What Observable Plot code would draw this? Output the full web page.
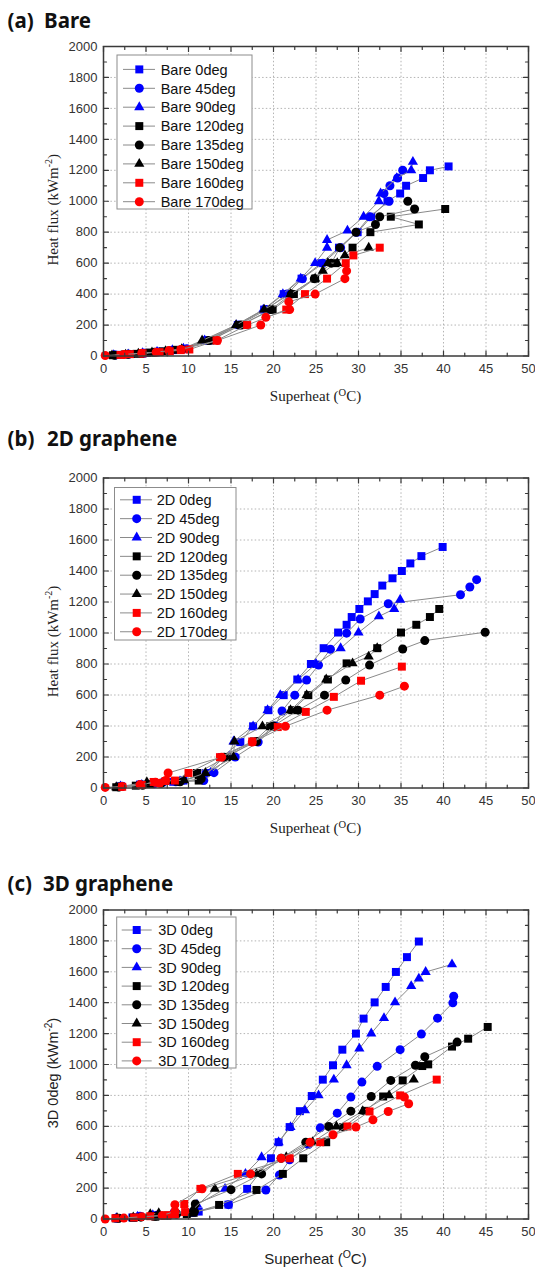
<!DOCTYPE html>
<html><head><meta charset="utf-8">
<script src="https://cdn.jsdelivr.net/npm/d3@7"></script>
<script src="https://cdn.jsdelivr.net/npm/@observablehq/plot@0.6"></script>
<style>
body{margin:0;background:#fff;}
#wrap{width:535px;height:1268px;overflow:hidden;}
#wrap svg{display:block;}
</style></head><body><div id="wrap"></div>
<script>
// ---------- tick labels ----------
const xTicks = [0,5,10,15,20,25,30,35,40,45,50];
const yTicks = [0,200,400,600,800,1000,1200,1400,1600,1800,2000];
const xMinor = [2.5,7.5,12.5,17.5,22.5,27.5,32.5,37.5,42.5,47.5];
const yMinor = [100,300,500,700,900,1100,1300,1500,1700,1900];

// ---------- series names ----------
const angles = ["0deg","45deg","90deg","120deg","135deg","150deg","160deg","170deg"];

// ---------- (a) Bare : [superheat, heat flux] ----------
const bare0 = [[1.6,7],[3.2,13],[5.1,20],[6.6,28],[8.2,38],[9.6,45],[12.3,100],[15.8,200],[18.9,300],[21.2,400],[23.3,500],[25.6,600],[27.7,700],[29.9,800],[31.5,900],[33.4,1000],[34.9,1050],[35.6,1100],[37.6,1150],[38.4,1200],[40.6,1225]];
const bare45 = [[1.4,6],[3,12],[4.8,18],[6.4,26],[8,36],[9.8,47],[12,100],[15.9,200],[19.2,300],[21.6,400],[23.4,500],[25.8,600],[27.9,700],[29.8,800],[31.3,900],[33.6,1000],[33,1050],[33.7,1100],[34.6,1150],[35.2,1200]];
const bare90 = [[1.2,5],[2.9,11],[4.6,19],[6.3,27],[8.1,37],[9.4,48],[11.9,100],[15.6,200],[18.8,300],[21.1,400],[23.2,500],[24.9,600],[26.3,700],[26.3,750],[28.7,810],[30.6,900],[32.4,1000],[32.6,1050],[34.5,1150],[36.2,1200],[36.4,1255]];
const bare120 = [[1.1,5],[2.5,10],[3.9,14],[5.4,22],[7,30],[8.6,40],[12.6,100],[16.1,200],[19.9,300],[22.4,400],[24.9,500],[27.3,600],[29.3,700],[31.4,800],[37.1,850],[33.8,900],[40.2,950]];
const bare135 = [[1.3,5],[2.9,11],[4.5,16],[6,24],[7.6,33],[9.2,42],[12.4,100],[16.2,200],[19.7,300],[22.1,400],[24.8,500],[26.8,600],[27.8,700],[29.7,800],[32,850],[32.5,900],[36.6,950],[35.8,1000]];
const bare150 = [[1,4],[2.6,9],[4.1,15],[5.7,23],[7.3,32],[9.2,45],[11.6,100],[15.6,200],[18.9,300],[22,400],[24.9,500],[25.8,550],[26.4,600],[27.5,600],[28.4,650],[31.2,700]];
const bare160 = [[2,7],[3.1,12],[4.6,17],[6.6,25],[7.8,30],[9.1,38],[10.1,42],[13.3,100],[16.9,200],[21.5,300],[23.7,400],[26.3,500],[28.5,600],[29.4,650],[32.5,700]];
const bare170 = [[0.2,3],[2.4,10],[4.5,18],[6.2,25],[7.7,35],[9.1,42],[13.4,100],[18.5,200],[19.1,250],[21.9,300],[21.8,350],[24.9,400],[28.4,500],[28.6,550]];

// ---------- (b) 2D graphene ----------
const g2d0 = [[2,11],[4.3,22],[6.5,32],[8.2,40],[9.4,48],[12,97],[13.9,199],[16.1,296],[17.6,398],[19.4,502],[21.2,599],[22.8,700],[24.4,800],[25.9,902],[27.6,1003],[28.6,1053],[29.2,1103],[30.1,1155],[31.1,1204],[31.9,1251],[32.8,1306],[34,1353],[35.1,1400],[36.1,1449],[37.4,1496],[39.9,1555]];
const g2d45 = [[2.2,11],[4.3,22],[6,28],[8.5,40],[11.8,48],[13,99],[15.5,200],[18.2,296],[20.2,400],[21,497],[22.5,599],[23.9,696],[25.3,793],[26.7,895],[28.6,999],[30.2,1090],[33.5,1189],[42,1247],[43.1,1297],[43.9,1344]];
const g2d90 = [[2,10],[4.5,20],[6.8,30],[9,42],[12.6,97],[14.8,200],[15.3,300],[17.6,398],[19.3,502],[20.8,599],[22.9,700],[25,800],[27.9,902],[30,1003],[32.4,1107],[34.2,1155],[34.9,1215]];
const g2d120 = [[1.5,5],[3.8,15],[5.5,25],[8.8,41],[11.2,48],[11,97],[14.5,199],[17.7,300],[19.6,398],[22.2,502],[24.1,599],[26.4,700],[28.6,804],[32.2,902],[35,1003],[36.8,1053],[38.4,1103],[39.5,1155]];
const g2d135 = [[1.8,6],[4.6,18],[6.8,30],[9,40],[11.5,60],[14.2,199],[18,300],[20,400],[22.9,502],[26,599],[28.5,696],[31.3,793],[35.2,897],[37.8,951],[44.9,1005]];
const g2d150 = [[1.5,5],[5.1,37],[7.5,45],[9.5,50],[12,97],[15.3,199],[15.4,300],[18.7,398],[22,502],[23.9,599],[26.2,700],[29.3,804],[31.2,848],[32.2,902]];
const g2d160 = [[2.2,8],[4.5,20],[5.9,39],[7.3,45],[8.4,48],[10,97],[13.7,199],[17.5,300],[20.5,393],[23.8,491],[27.1,588],[30.3,692],[35.1,783]];
const g2d170 = [[0.2,4],[2.2,10],[4.3,22],[6.1,37],[6.6,30],[7.3,48],[7.6,97],[13.9,199],[17.5,296],[21.4,398],[26.3,502],[32.5,599],[35.4,657]];

// ---------- (c) 3D graphene ----------
const g3d0 = [[1.6,6],[3.4,10],[4.3,15],[6.2,22],[8.3,30],[10.4,40],[11.2,48],[14.7,93],[16.9,195],[19.7,393],[20.6,497],[21.9,595],[23.1,698],[24.5,796],[25.8,902],[27,995],[28.1,1096],[29.7,1200],[30.6,1297],[31.9,1402],[33.2,1502],[34.4,1599],[35.7,1695],[37.1,1796]];
const g3d45 = [[1.5,5],[4.3,18],[6.3,25],[8.6,35],[10.5,45],[14.7,93],[19.1,188],[20.7,285],[21.9,383],[24.1,482],[25.5,590],[27.5,685],[29.1,789],[30.4,886],[32.2,988],[34.9,1096],[37.4,1197],[39.3,1300],[41.1,1399],[41.2,1442]];
const g3d90 = [[1.5,6],[4,15],[5.8,25],[8,32],[10.8,50],[11,93],[14.3,195],[16.7,292],[18.6,400],[20.6,497],[22,595],[23.7,703],[25.3,800],[27.1,902],[28.6,995],[30.1,1103],[31.5,1201],[33,1300],[34.3,1402],[36.2,1507],[37.1,1556],[37.9,1599],[41,1648]];
const g3d120 = [[1.5,4],[3.5,8],[6.1,15],[7.5,22],[9.8,32],[10.6,40],[13.6,91],[18,188],[21.1,292],[23.5,393],[26.2,497],[28.2,595],[30.8,700],[32.9,793],[35.2,897],[37.5,990],[38.2,1001],[41,1116],[42.9,1167],[45.2,1243]];
const g3d135 = [[1.8,5],[4.4,12],[6.1,18],[8.6,32],[10.7,48],[10.8,97],[15,190],[18.6,292],[20.9,393],[23.8,497],[26.5,599],[29.1,698],[31.5,793],[33.8,897],[36.7,995],[37.8,1050],[41.6,1145]];
const g3d150 = [[1.6,5],[3.5,10],[5.5,32],[6.5,37],[8.5,40],[10.5,60],[13.1,195],[18,292],[21.5,400],[24.6,497],[27.4,599],[30.5,698],[33.6,800],[36.5,902]];
const g3d160 = [[1.4,5],[3.6,10],[5.5,18],[7.6,25],[8.4,30],[9.6,45],[9.5,97],[11.4,195],[15.8,292],[21.9,393],[25.5,497],[28.7,599],[31.3,696],[34.9,800],[39.2,902]];
const g3d170 = [[0.2,0],[2.4,6],[4.5,15],[6.9,22],[8.4,50],[8.4,93],[11.6,195],[17.3,292],[20.9,393],[24.3,497],[27,545],[29.7,595],[31.7,642],[33.5,696],[35.9,746],[35.4,789]];

// ---------- styles ----------
const colors = ["#0000ff","#0000ff","#0000ff","#000000","#000000","#000000","#ff0000","#ff0000"];
const shapes = ["square","circle","triangle","square","circle","triangle","square","circle"];
const radius = {square: 4.5, circle: 4.5, triangle: 3.8};
const d3sym = {square: d3.symbolSquare, circle: d3.symbolCircle, triangle: d3.symbolTriangle};

const panels = [
  {t1:"(a)", t2:"Bare", t2x:44, tby:27.5, prefix:"Bare", series:[bare0,bare45,bare90,bare120,bare135,bare150,bare160,bare170],
   height:420, mt:46, mb:64.5, serif:true, yTitle:"Heat flux", xTitleY:401,
   lg:{x0:117, x1:252, y0:55, y1:209, first:69.4, step:18.9, l0:123, l1:155, m:139.3, tx:160.7}},
  {t1:"(b)", t2:"2D graphene", t2x:47, tby:25.5, prefix:"2D", series:[g2d0,g2d45,g2d90,g2d120,g2d135,g2d150,g2d160,g2d170],
   height:430, mt:57.5, mb:62.5, serif:true, yTitle:"Heat flux", xTitleY:413,
   lg:{x0:114.5, x1:236, y0:67.5, y1:220, first:79.8, step:18.85, l0:120, l1:152, m:136.7, tx:156.7}},
  {t1:"(c)", t2:"3D graphene", t2x:43, tby:40.5, prefix:"3D", series:[g3d0,g3d45,g3d90,g3d120,g3d135,g3d150,g3d160,g3d170],
   height:418, mt:59.5, mb:49.5, serif:false, yTitle:"3D 0deg", xTitleY:413.5,
   lg:{x0:116.7, x1:236, y0:67, y1:218, first:80, step:18.7, l0:121.7, l1:151.7, m:136.7, tx:158.3}}
];

const tickShape = {draw(ctx, l){ ctx.moveTo(0,0); ctx.lineTo(0,-l); }};
const frameColor = "#3a3a3a";

function tickMarks(vals, len, side){
  const o = {length: len, anchor:"start", shape: tickShape, stroke: frameColor, strokeWidth: 1.2};
  if (side==="bottom") return Plot.vector(vals, {...o, x: d=>d, y: 0, rotate: 0});
  if (side==="top") return Plot.vector(vals, {...o, x: d=>d, y: 2000, rotate: 180});
  if (side==="left") return Plot.vector(vals, {...o, x: 0, y: d=>d, rotate: 90});
  return Plot.vector(vals, {...o, x: 50, y: d=>d, rotate: 270});
}

const wrap = document.getElementById("wrap");
panels.forEach(p => {
  const marks = [
    Plot.ruleX(xTicks.slice(1,-1), {stroke:"#b4b4b4", strokeWidth:1, strokeDasharray:"1.5,2.2"}),
    Plot.ruleY(yTicks.slice(1,-1), {stroke:"#b4b4b4", strokeWidth:1, strokeDasharray:"1.5,2.2"})
  ];
  p.series.forEach((pts, i) => {
    marks.push(Plot.line(pts, {x: d=>d[0], y: d=>d[1], stroke:"#8a8a8a", strokeWidth:1}));
    marks.push(Plot.dot(pts, {x: d=>d[0], y: d=>d[1], fill: colors[i], symbol: shapes[i], r: radius[shapes[i]]}));
  });
  marks.push(Plot.frame({stroke: frameColor, strokeWidth: 1.5}));
  for (const s of ["bottom","top"]) { marks.push(tickMarks(xTicks, 5, s)); marks.push(tickMarks(xMinor, 3, s)); }
  for (const s of ["left","right"]) { marks.push(tickMarks(yTicks, 5, s)); marks.push(tickMarks(yMinor, 3, s)); }
  marks.push(Plot.axisX({ticks: xTicks, tickSize: 0, tickPadding: 8, label: null, tickFormat: d=>String(d), fontSize: 13, fill:"#333"}));
  marks.push(Plot.axisY({ticks: yTicks, tickSize: 0, tickPadding: 6, label: null, tickFormat: d=>String(d), fontSize: 13, fill:"#333"}));

  const svg = Plot.plot({
    width: 535, height: p.height,
    marginLeft: 103, marginRight: 7, marginTop: p.mt, marginBottom: p.mb,
    x: {domain:[0,50]}, y: {domain:[0,2000]},
    style: {fontFamily: "'Liberation Sans', Arial, sans-serif", fontSize: "13px", background: "#fff", color: "#333"},
    marks
  });
  const s = d3.select(svg);
  const sans = "'Liberation Sans', Arial, sans-serif";
  const serif = "'Liberation Serif', 'Times New Roman', serif";

  // panel title
  const tt = s.append("text").attr("y", p.tby).attr("text-anchor", "start").attr("font-family", "'Noto Sans', 'DejaVu Sans', sans-serif")
    .attr("font-weight", 700).attr("font-size", 20.5).attr("fill", "#111");
  tt.append("tspan").attr("x", 7.5).text(p.t1);
  tt.append("tspan").attr("x", p.t2x).text(p.t2);

  // legend
  const L = p.lg;
  const lg = s.append("g").attr("text-anchor", "start");
  lg.append("rect").attr("x", L.x0).attr("y", L.y0).attr("width", L.x1-L.x0).attr("height", L.y1-L.y0)
    .attr("fill", "#fff").attr("stroke", "#8c8c8c").attr("stroke-width", 1);
  angles.forEach((a, i) => {
    const y = L.first + i*L.step;
    lg.append("line").attr("x1", L.l0).attr("x2", L.l1).attr("y1", y).attr("y2", y).attr("stroke", "#8a8a8a").attr("stroke-width", 1);
    const r = radius[shapes[i]];
    lg.append("path").attr("d", d3.symbol(d3sym[shapes[i]], Math.PI*r*r)()).attr("transform", `translate(${L.m},${y})`).attr("fill", colors[i]);
    lg.append("text").attr("x", L.tx).attr("y", y).attr("dy", "0.36em").attr("text-anchor", "start").attr("font-family", sans).attr("font-size", 14.5)
      .attr("fill", "#111").text(`${p.prefix} ${a}`);
  });

  // axis titles
  const fam = p.serif ? serif : sans;
  const frameMid = p.mt + (p.height - p.mt - p.mb)/2;
  const xt = s.append("text").attr("x", 315.5).attr("y", p.xTitleY).attr("text-anchor", "middle")
    .attr("font-family", fam).attr("font-size", 15).attr("fill", "#222");
  xt.append("tspan").text("Superheat (");
  xt.append("tspan").attr("dy", -5.5).attr("font-size", 10.5).text("O");
  xt.append("tspan").attr("dy", 5.5).text("C)");

  const yt = s.append("text").attr("transform", `translate(57.5,${frameMid + 9}) rotate(-90)`).attr("text-anchor", "middle")
    .attr("font-family", fam).attr("font-size", p.serif ? 15 : 14.5).attr("fill", "#222");
  yt.append("tspan").text(`${p.yTitle} (kWm`);
  yt.append("tspan").attr("dy", -5.5).attr("font-size", 10).text("-2");
  yt.append("tspan").attr("dy", 5.5).text(")");

  wrap.appendChild(svg);
});
</script>
</body></html>
